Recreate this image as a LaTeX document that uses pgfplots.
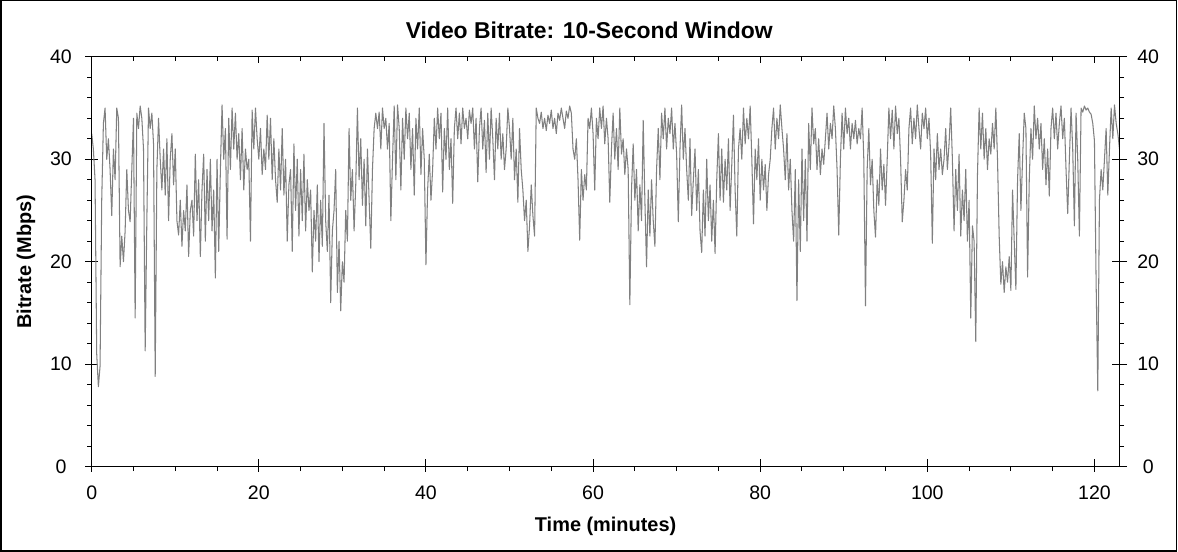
\documentclass[border=0pt]{standalone}
\usepackage{fontspec}
\setmainfont{Liberation Sans}
\usepackage{pgfplots}
\pgfplotsset{compat=1.18}
\definecolor{linegray}{RGB}{128,128,128}
\begin{document}
\begin{tikzpicture}
\useasboundingbox (-91.7bp,-85.4bp) rectangle (1086.3bp,466.6bp);
\draw[line width=1.5bp] (-90.9bp,-84.4bp) rectangle (1085.0bp,465.9bp);
\pgfplotsset{
  base/.style={
    at={(0,0)}, anchor=south west,
    scale only axis, width=1027.8bp, height=409.8bp,
    xmin=0, xmax=123, ymin=0, ymax=40,
    xtick={0,20,...,120}, ytick={0,10,...,40},
    minor x tick num=3, minor y tick num=4,
    axis line style={line width=1bp},
    every tick/.style={black, line width=1bp},
    /pgf/number format/assume math mode=true,
    ticklabel style={font=\fontsize{19.6}{19.6}\selectfont},
  }
}
\begin{axis}[base,
  xtick pos=bottom, ytick pos=left,
  tick align=outside,
  major tick length=13bp, minor tick length=4.5bp,
  major x tick style={yshift=7.7bp},
  major y tick style={xshift=6.5bp},
  xticklabel style={anchor=base, yshift=-19.7bp},
  yticklabel style={anchor=center, xshift=-17.7bp},
  xlabel={Time (minutes)}, ylabel={Bitrate (Mbps)},
  xlabel style={font=\bfseries\fontsize{20}{20}\selectfont, at={(axis description cs:0.5,-0.1589)}, anchor=base},
  ylabel style={font=\bfseries\fontsize{20}{20}\selectfont, at={(axis description cs:-0.0639,0.5)}, anchor=center, rotate=0},
]
\addplot[color=linegray, line width=1.05bp, line join=round, mark=none] coordinates {
(0,32.5)(0.2,31)(0.4,28)(0.6,11)(0.8,7.8)
(1.0,9.8)(1.2,26)(1.4,33.5)(1.6,35)(1.8,30)
(2.0,32)(2.2,29)(2.4,24.5)(2.6,31)(2.8,28)
(3.0,35)(3.2,34)(3.4,19.5)(3.6,22.5)(3.8,20)
(4.0,23)(4.2,29)(4.4,25)(4.6,23.9)(4.8,29)
(5.0,34)(5.2,14.5)(5.4,34.5)(5.6,33)(5.8,35.2)
(6.0,34)(6.2,31)(6.4,11.3)(6.6,24)(6.8,35)
(7.0,33)(7.2,34.5)(7.4,31.5)(7.6,8.8)(7.8,29)
(8.0,34)(8.2,30)(8.4,27)(8.6,31)(8.8,26.5)
(9.0,32)(9.2,24)(9.4,30)(9.6,32.5)(9.8,27.5)
(10.0,31)(10.2,24)(10.4,22.6)(10.6,26)(10.8,21.5)
(11.0,25)(11.2,23)(11.4,27.5)(11.6,20.5)(11.8,25)
(12.0,26)(12.2,22.5)(12.4,30.5)(12.6,24)(12.8,28)
(13.0,20.5)(13.2,27)(13.4,30.5)(13.6,22)(13.8,29)
(14.0,24)(14.2,30)(14.4,23)(14.6,27)(14.8,18.4)
(15.0,30)(15.2,21)(15.4,29)(15.6,35.3)(15.8,30)
(16.0,33)(16.2,22.2)(16.4,34)(16.6,29)(16.8,35)
(17.0,31)(17.2,34.5)(17.4,30)(17.6,32.5)(17.8,28)
(18.0,33)(18.2,27)(18.4,31)(18.6,29)(18.8,30)
(19.0,22)(19.2,34.8)(19.4,31)(19.6,35)(19.8,32)
(20.0,30)(20.2,33)(20.4,28.5)(20.6,31)(20.8,29)
(21.0,34.3)(21.2,30)(21.4,34)(21.6,28)(21.8,32)
(22.0,28)(22.2,25.8)(22.4,31)(22.6,27)(22.8,33)
(23.0,26.5)(23.2,30)(23.4,22)(23.6,27.5)(23.8,29)
(24.0,21)(24.2,31.5)(24.4,25)(24.6,30)(24.8,22.5)
(25.0,29)(25.2,24)(25.4,30.5)(25.6,23)(25.8,28)
(26.0,25)(26.2,27)(26.4,19)(26.6,25)(26.8,22)
(27.0,27.5)(27.2,20)(27.4,26)(27.6,21.5)(27.8,33.5)
(28.0,24)(28.2,21)(28.4,26.5)(28.6,16)(28.8,23)
(29.0,25)(29.2,29)(29.4,17)(29.6,22)(29.8,15.2)
(30.0,20)(30.2,18)(30.4,25)(30.6,22)(30.8,33)
(31.0,26)(31.2,29)(31.4,23)(31.6,27.5)(31.8,35)
(32.0,28)(32.2,32)(32.4,25.5)(32.6,30)(32.8,23.5)
(33.0,31)(33.2,26)(33.4,21.3)(33.6,29)(33.8,33)
(34.0,34.5)(34.2,33)(34.4,34.6)(34.6,31)(34.8,35)
(35.0,33)(35.2,34)(35.4,31)(35.6,33.5)(35.8,24)
(36.0,30)(36.2,35.2)(36.4,28)(36.6,35.3)(36.8,33)
(37.0,27)(37.2,34)(37.4,30)(37.6,35)(37.8,32)
(38.0,34.5)(38.2,29)(38.4,33)(38.6,26.5)(38.8,34)
(39.0,31)(39.2,35)(39.4,28.5)(39.6,33)(39.8,30)
(40.0,19.7)(40.2,27)(40.4,30.5)(40.6,26)(40.8,29)
(41.0,34)(41.2,31)(41.4,35)(41.6,32)(41.8,34.5)
(42.0,26.8)(42.2,33)(42.4,30)(42.6,35)(42.8,29)
(43.0,32)(43.2,25.7)(43.4,33)(43.6,35)(43.8,32)
(44.0,34.5)(44.2,31.5)(44.4,35)(44.6,33)(44.8,34)
(45.0,32)(45.2,34.8)(45.4,33.5)(45.6,35)(45.8,31)
(46.0,34)(46.2,27.8)(46.4,33)(46.6,35)(46.8,31)
(47.0,33.8)(47.2,28.7)(47.4,34.5)(47.6,30)(47.8,35)
(48.0,32)(48.2,28)(48.4,34)(48.6,31)(48.8,34.5)
(49.0,30)(49.2,32.5)(49.4,29)(49.6,31)(49.8,35)
(50.0,33)(50.2,30)(50.4,34)(50.6,28)(50.8,31)
(51.0,25.8)(51.2,33)(51.4,29)(51.6,27)(51.8,24)
(52.0,26)(52.2,21)(52.4,23.5)(52.6,27.5)(52.8,24.5)
(53.0,22.5)(53.2,35)(53.4,34)(53.6,33.5)(53.8,34.6)
(54.0,33)(54.2,34)(54.4,32.8)(54.6,34.3)(54.8,33.5)
(55.0,34.8)(55.2,33)(55.4,34)(55.6,32.5)(55.8,34.5)
(56.0,33.8)(56.2,35)(56.4,34)(56.6,33)(56.8,34.7)
(57.0,34)(57.2,35.2)(57.4,34.5)(57.6,31)(57.8,30)
(58.0,32)(58.2,28)(58.4,22.1)(58.6,29)(58.8,26)
(59.0,28.5)(59.2,27)(59.4,34)(59.6,33)(59.8,35)
(60.0,32.5)(60.2,27)(60.4,34)(60.6,32)(60.8,35)
(61.0,33)(61.2,35.2)(61.4,31.5)(61.6,34)(61.8,32)
(62.0,25.8)(62.2,31)(62.4,34.5)(62.6,30)(62.8,33)
(63.0,29)(63.2,35)(63.4,30.5)(63.6,32)(63.8,28.5)
(64.0,31)(64.2,29)(64.4,15.8)(64.6,27)(64.8,31.5)
(65.0,26)(65.2,29)(65.4,23)(65.6,27.5)(65.8,24)
(66.0,33.8)(66.2,26)(66.4,19.5)(66.6,27)(66.8,22.5)
(67.0,28)(67.2,24)(67.4,21.5)(67.6,29)(67.8,33)
(68.0,28)(68.2,34.5)(68.4,32)(68.6,35)(68.8,31)
(69.0,34)(69.2,32.5)(69.4,35)(69.6,31)(69.8,33.5)
(70.0,30.5)(70.2,23.9)(70.4,31)(70.6,35.3)(70.8,30)
(71.0,33)(71.2,29)(71.4,26)(71.6,32)(71.8,24.5)
(72.0,28)(72.2,31)(72.4,25)(72.6,29)(72.8,23)
(73.0,20.9)(73.2,27)(73.4,22.5)(73.6,30)(73.8,24)
(74.0,27.5)(74.2,22)(74.4,26)(74.6,20.8)(74.8,28)
(75.0,32.5)(75.2,26)(75.4,31)(75.6,25.8)(75.8,30)
(76.0,27)(76.2,32)(76.4,25)(76.6,29.5)(76.8,34.3)
(77.0,27)(77.2,22.5)(77.4,31)(77.6,33)(77.8,30)
(78.0,35)(78.2,31.5)(78.4,34)(78.6,32)(78.8,35.2)
(79.0,30)(79.2,23.7)(79.4,31)(79.6,28)(79.8,32)
(80.0,26)(80.2,30)(80.4,27)(80.6,29.5)(80.8,25)
(81.0,28.5)(81.2,30)(81.4,33)(81.6,35)(81.8,31)
(82.0,34)(82.2,32)(82.4,35.3)(82.6,33)(82.8,31)
(83.0,28)(83.2,32.5)(83.4,27)(83.6,30)(83.8,25)
(84.0,22)(84.2,29)(84.4,16.2)(84.6,28)(84.8,21)
(85.0,31)(85.2,24)(85.4,30)(85.6,22)(85.8,33.5)
(86.0,29)(86.2,35)(86.4,31.5)(86.6,33)(86.8,29)
(87.0,32)(87.2,28.5)(87.4,31)(87.6,29.5)(87.8,32)
(88.0,34.5)(88.2,31)(88.4,33.5)(88.6,32)(88.8,35.2)
(89.0,33)(89.2,29)(89.4,22.6)(89.6,30)(89.8,34.5)
(90.0,31)(90.2,35)(90.4,32.5)(90.6,34)(90.8,31)
(91.0,33.5)(91.2,32)(91.4,33.8)(91.6,31.5)(91.8,33)
(92.0,32)(92.2,35)(92.4,30)(92.6,15.7)(92.8,29)
(93.0,33)(93.2,27.5)(93.4,30)(93.6,25)(93.8,22.4)
(94.0,28)(94.2,25.5)(94.4,31)(94.6,27)(94.8,29.5)
(95.0,25.5)(95.2,30)(95.4,35)(95.6,32)(95.8,34.8)
(96.0,31)(96.2,35.2)(96.4,32.5)(96.6,34)(96.8,30)
(97.0,23.9)(97.2,26)(97.4,29)(97.6,27)(97.8,33)
(98.0,35)(98.2,31.5)(98.4,34)(98.6,32)(98.8,35.3)
(99.0,33)(99.2,31)(99.4,34.5)(99.6,33)(99.8,35)
(100.0,32)(100.2,34)(100.4,30.5)(100.6,21.8)(100.8,31)
(101.0,28)(101.2,32.5)(101.4,29)(101.6,31)(101.8,28.5)
(102.0,30)(102.2,33)(102.4,29)(102.6,31.5)(102.8,35)
(103.0,30)(103.2,23)(103.4,29)(103.6,25)(103.8,30.5)
(104.0,22.5)(104.2,27)(104.4,24)(104.6,29)(104.8,22)
(105.0,26)(105.2,14.5)(105.4,23.5)(105.6,22)(105.8,12.2)
(106.0,28.4)(106.2,35)(106.4,31)(106.6,34.5)(106.8,30)
(107.0,33)(107.2,29)(107.4,32)(107.6,30.5)(107.8,33.5)
(108.0,31)(108.2,35)(108.4,30)(108.6,22.5)(108.8,17.8)
(109.0,20)(109.2,17)(109.4,19.5)(109.6,18)(109.8,20.5)
(110.0,17.2)(110.2,27)(110.4,22)(110.6,17.3)(110.8,28)
(111.0,32.5)(111.2,25)(111.4,30)(111.6,34.5)(111.8,33)
(112.0,18.5)(112.2,28)(112.4,33)(112.6,30)(112.8,35.2)
(113.0,32)(113.2,34)(113.4,31)(113.6,33.5)(113.8,29)
(114.0,32)(114.2,27.5)(114.4,31)(114.6,26.4)(114.8,33)
(115.0,35)(115.2,32)(115.4,34.5)(115.6,31)(115.8,33.5)
(116.0,35.2)(116.2,32)(116.4,34)(116.6,29)(116.8,24.7)
(117.0,30)(117.2,35)(117.4,31)(117.6,23.5)(117.8,34.5)
(118.0,30)(118.2,22.5)(118.4,35)(118.6,34.6)(118.8,35.2)
(119.0,34.8)(119.2,35)(119.4,34.6)(119.6,34.4)(119.8,33.5)
(120.0,31.8)(120.2,18)(120.4,7.4)(120.6,26)(120.8,29)
(121.0,27)(121.2,30)(121.4,33)(121.6,26.5)(121.8,31)
(122.0,35)(122.2,32)(122.4,35.3)(122.6,33.5)(122.8,32.5)
(123.0,31)
};
\end{axis}
% top ticks
\begin{axis}[base,
  hide y axis,
  xtick pos=top, tick align=inside,
  major tick length=6.7bp, minor tick length=4.3bp,
  xticklabels={},
]
\end{axis}
% right ticks and labels
\begin{axis}[base,
  hide x axis,
  ytick pos=right, yticklabel pos=right,
  tick align=outside,
  major tick length=15bp, minor tick length=4.7bp,
  major y tick style={xshift=-7.5bp},
  yticklabel style={anchor=center, xshift=13.7bp},
]
\end{axis}
\node[anchor=base, font=\bfseries\fontsize{23}{23}\selectfont] at (497.5bp,428.3bp) {Video Bitrate: 10-Second Window};
\end{tikzpicture}
\end{document}
